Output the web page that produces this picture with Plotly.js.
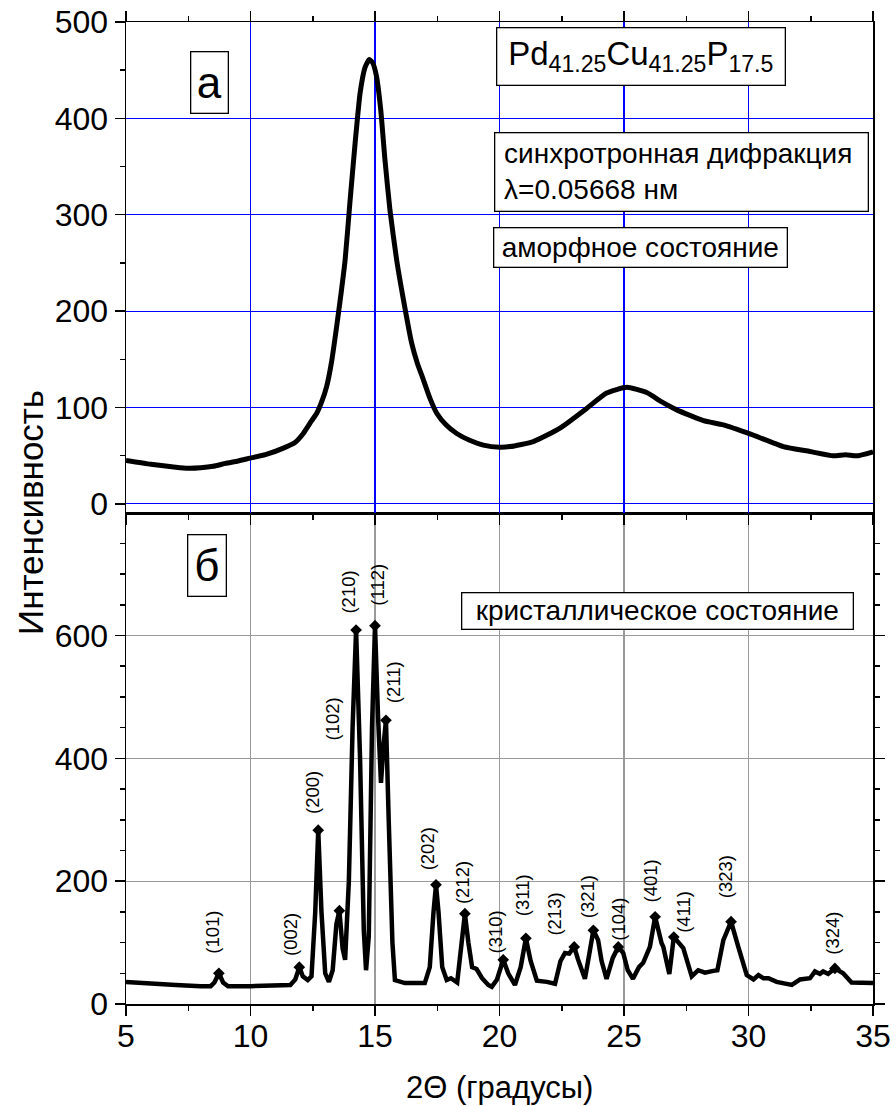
<!DOCTYPE html>
<html><head><meta charset="utf-8">
<script src="https://cdn.plot.ly/plotly-3.0.1.min.js"></script>
<style>html,body{margin:0;padding:0;background:#fff}</style>
</head><body><div id="chart" style="width:896px;height:1106px"></div>
<script>
// ---- Data ----
// (а) amorphous state
const amorphX = [5.0, 6.0, 7.0, 7.5, 8.0, 8.5, 9.0, 9.5, 9.98, 10.6, 11.32, 11.8, 12.12, 12.45, 12.66, 12.86, 13.06, 13.26, 13.46, 13.64, 13.80, 14.0, 14.2, 14.4, 14.6, 14.77, 14.9, 15.05, 15.23, 15.4, 15.6, 15.87, 16.14, 16.47, 16.7, 16.94, 17.2, 17.48, 17.85, 18.28, 18.8, 19.35, 20.02, 20.42, 21.36, 22.43, 23.5, 24.3, 25.11, 25.91, 26.5, 27.12, 28.19, 28.99, 30.06, 31.4, 32.47, 33.41, 33.9, 34.34, 35.0];
const amorphY = [45, 41, 38, 37, 37.5, 39, 42, 44.5, 47.4, 51, 57.8, 64, 73, 86, 94, 106, 122, 148, 184, 219, 253, 315, 374, 426, 453, 461, 458, 445, 409, 357, 305, 253, 212, 167, 146, 129, 110, 94, 82, 73, 66, 61, 58.8, 59.4, 64.6, 78.5, 99, 115, 121, 115.5, 106, 97.5, 86.4, 82, 72.6, 59.4, 54.3, 49.8, 51, 49.8, 54];
// (б) crystalline state
const crystX = [5.0, 6.0, 7.0, 8.0, 8.4, 8.55, 8.73, 8.9, 9.1, 10.0, 11.0, 11.6, 11.8, 11.96, 12.1, 12.3, 12.45, 12.6, 12.72, 12.85, 13.0, 13.15, 13.3, 13.45, 13.57, 13.7, 13.8, 13.95, 14.1, 14.24, 14.4, 14.55, 14.64, 14.75, 14.88, 15.0, 15.12, 15.24, 15.34, 15.44, 15.55, 15.7, 15.8, 16.2, 17.0, 17.2, 17.35, 17.45, 17.55, 17.7, 17.88, 18.05, 18.3, 18.45, 18.61, 18.75, 18.9, 19.08, 19.3, 19.55, 19.69, 19.9, 20.15, 20.35, 20.62, 20.85, 21.06, 21.25, 21.5, 21.9, 22.23, 22.45, 22.63, 22.8, 23.0, 23.15, 23.43, 23.6, 23.77, 23.96, 24.1, 24.3, 24.55, 24.77, 24.97, 25.15, 25.36, 25.6, 25.77, 26.04, 26.25, 26.51, 26.58, 26.82, 27.0, 27.38, 27.72, 27.98, 28.25, 28.59, 28.75, 28.99, 29.3, 29.59, 29.93, 30.2, 30.4, 30.6, 30.8, 31.13, 31.74, 32.07, 32.47, 32.67, 32.87, 33.0, 33.2, 33.47, 33.8, 34.14, 34.5, 35.0];
const crystY = [36, 33, 31, 29, 29, 35, 50, 35, 29, 29, 30, 31, 40, 60, 45, 39, 45, 150, 283, 150, 50, 36, 55, 130, 152, 90, 72, 200, 450, 609, 400, 120, 55, 110, 450, 616, 470, 360, 420, 462, 300, 100, 39, 34, 34, 60, 150, 194, 150, 60, 39, 42, 35, 90, 147, 100, 60, 57, 42, 31, 28, 40, 72, 50, 31, 60, 107, 70, 38, 36, 33, 70, 83, 82, 93, 73, 41, 80, 120, 104, 70, 41, 75, 93, 83, 55, 41, 60, 67, 93, 142, 99, 93, 49, 109, 91, 45, 55, 51, 54, 55, 104, 134, 93, 47, 40, 47, 42, 42, 36, 31, 40, 42, 53, 49, 53, 49, 58, 50, 35, 34, 34];
// indexed reflections
const peakX = [8.73, 11.96, 12.72, 13.57, 14.24, 15.0, 15.44, 17.45, 18.61, 20.15, 21.06, 23.0, 23.77, 24.77, 26.25, 27.0, 29.3, 33.47];
const peakY = [50, 60, 283, 152, 609, 616, 462, 194, 147, 72, 107, 93, 120, 93, 142, 109, 134, 58];
const peakLabels = ['(101)', '(002)', '(200)', '(102)', '(210)', '(112)', '(211)', '(202)', '(212)', '(310)', '(311)', '(213)', '(321)', '(104)', '(401)', '(411)', '(323)', '(324)'];
// tick labels
const xTickVals = [5, 10, 15, 20, 25, 30, 35];
const yTopTicks = [0, 100, 200, 300, 400, 500];
const yBottomTicks = [0, 200, 400, 600];

// ---- Label placement (pixels; layout only) ----
const labelDx = [-6, -9, -6, -7, -8, 3, 7, -9, -3, -8, -4, -20, -6, 0, -5, 9, -6, -2];
const labelGap = [21, 12, 17, 171, 17, 21, 18, 15, 11, 7, 23, 12, 13, 7, 15, 5, 24, 15];

const FONT = 'Arial, "Liberation Sans", sans-serif';
const BLUE = '#0000ff';
const GRAY = '#9a9a9a';

const traces = [
  {x: amorphX, y: amorphY, xaxis: 'x2', yaxis: 'y2', mode: 'lines', line: {color: '#000', width: 5, shape: 'spline', smoothing: 0.5}, hoverinfo: 'skip'},
  {x: crystX, y: crystY, xaxis: 'x', yaxis: 'y', mode: 'lines', line: {color: '#000', width: 4.5}, hoverinfo: 'skip'},
  {x: peakX, y: peakY, xaxis: 'x', yaxis: 'y', mode: 'markers', marker: {symbol: 'diamond', size: 9, color: '#000'}, hoverinfo: 'skip'}
];

const baseAxis = {
  showline: true, linecolor: '#000', linewidth: 1.5,
  ticks: 'outside', ticklen: 10, tickwidth: 1.5, tickcolor: '#000',
  tickfont: {family: FONT, size: 32, color: '#000'},
  zeroline: false, gridwidth: 1.2
};

const annotations = [];
function box(text, xref, yref, x, y, w, h, size, align) {
  annotations.push({text: text, xref: xref, yref: yref, x: x, y: y, width: w, height: h,
    showarrow: false, bordercolor: '#000', borderwidth: 1.3, borderpad: 1, bgcolor: '#fff',
    align: align || 'center', valign: 'middle', font: {family: FONT, size: size, color: '#000'}});
}
box('а', 'x2', 'y2', 8.35, 437, 34, 58, 44);
box('Pd<sub>41.25</sub>Cu<sub>41.25</sub>P<sub>17.5</sub>', 'x2', 'y2', 25.70, 463.7, 285, 54, 33);
box('\u00a0синхротронная дифракция<br>\u00a0λ=0.05668 нм', 'x2', 'y2', 27.29, 343.9, 370, 75, 28, 'left');
box('аморфное состояние', 'x2', 'y2', 25.68, 265.6, 290, 36, 28);
box('б', 'x', 'y', 8.27, 714, 35, 58, 44);
box('кристаллическое состояние', 'x', 'y', 26.33, 639.6, 388, 33, 28);

peakLabels.forEach(function (t, i) {
  annotations.push({text: t, xref: 'x', yref: 'y', x: peakX[i], y: peakY[i],
    xshift: labelDx[i], yshift: labelGap[i] - 3, xanchor: 'center', yanchor: 'bottom',
    textangle: -90, showarrow: false, font: {family: FONT, size: 18.5, color: '#000'}});
});

annotations.push({text: 'Интенсивность', xref: 'paper', yref: 'paper', x: -0.1285, y: 0.5,
  xanchor: 'center', yanchor: 'middle', textangle: -90, showarrow: false,
  font: {family: FONT, size: 35, color: '#000'}});
annotations.push({text: '2Θ (градусы)', xref: 'paper', yref: 'paper', x: 0.5, y: -0.0855,
  xanchor: 'center', yanchor: 'middle', showarrow: false,
  font: {family: FONT, size: 31, color: '#000'}});

const layout = {
  width: 896, height: 1106,
  margin: {l: 126, r: 23, t: 22, b: 102},
  paper_bgcolor: '#fff', plot_bgcolor: '#fff',
  showlegend: false,
  font: {family: FONT, color: '#000'},
  xaxis: Object.assign({}, baseAxis, {
    domain: [0, 1], anchor: 'y', range: [5, 35], tickmode: 'array', tickvals: xTickVals,
    mirror: true, showgrid: true, gridcolor: GRAY, ticklabelstandoff: -7,
    minor: {dtick: 2.5, tick0: 5, ticks: 'outside', ticklen: 5, tickwidth: 1.5, tickcolor: '#000', showgrid: false}
  }),
  xaxis2: Object.assign({}, baseAxis, {
    domain: [0, 1], anchor: 'y2', range: [5, 35], matches: 'x', tickmode: 'array', tickvals: xTickVals,
    showticklabels: false, mirror: 'ticks', showgrid: true, gridcolor: BLUE,
    minor: {dtick: 2.5, tick0: 5, ticks: 'outside', ticklen: 5, tickwidth: 1.5, tickcolor: '#000', showgrid: false}
  }),
  yaxis: Object.assign({}, baseAxis, {
    domain: [0, 0.5], anchor: 'x', range: [0, 799.5], tickmode: 'array', tickvals: yBottomTicks,
    mirror: 'ticks', showgrid: true, gridcolor: GRAY,
    minor: {dtick: 50, tick0: 0, ticks: 'outside', ticklen: 5, tickwidth: 1.5, tickcolor: '#000', showgrid: false}
  }),
  yaxis2: Object.assign({}, baseAxis, {
    domain: [0.5, 1], anchor: 'x2', range: [-9.5, 500], tickmode: 'array', tickvals: yTopTicks,
    mirror: true, showgrid: true, gridcolor: BLUE,
    minor: {dtick: 50, tick0: 0, ticks: 'outside', ticklen: 5, tickwidth: 1.5, tickcolor: '#000', showgrid: false}
  }),
  annotations: annotations
};

Plotly.newPlot('chart', traces, layout, {staticPlot: true, displayModeBar: false});
</script>
</body></html>
